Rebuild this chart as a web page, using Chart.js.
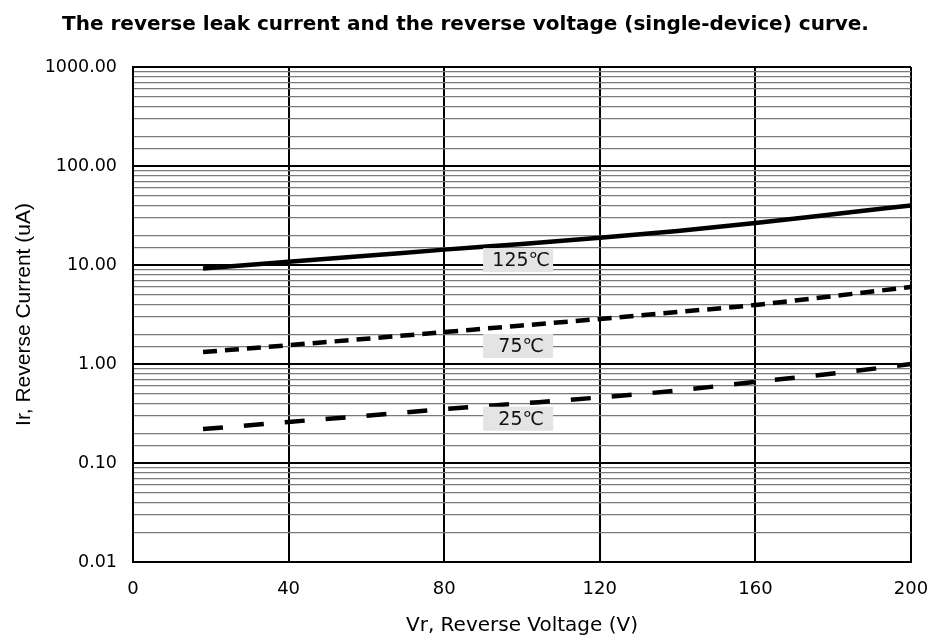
<!DOCTYPE html>
<html>
<head>
<meta charset="utf-8">
<title>Reverse leak current vs reverse voltage</title>
<script src="https://cdn.jsdelivr.net/npm/chart.js@4.4.1/dist/chart.umd.min.js"></script>
<style>
  html, body { margin: 0; padding: 0; background: #fff; }
  #wrap { width: 935px; height: 639px; }
</style>
</head>
<body>
<div id="wrap"><canvas id="curve-chart" width="935" height="639"></canvas></div>
<script>
// values
var voltages = [18, 40, 60, 80, 100, 120, 140, 160, 180, 200];
var current125 = [9.2, 10.8, 12.4, 14.3, 16.3, 18.8, 22, 26.5, 32.5, 40];
var current75 = [1.32, 1.55, 1.8, 2.1, 2.45, 2.85, 3.35, 3.95, 4.85, 6.0];
var current25 = [0.22, 0.26, 0.30, 0.35, 0.40, 0.46, 0.54, 0.66, 0.80, 1.0];

var xTickLabels = ['0', '40', '80', '120', '160', '200'];
var yTickLabels = ['0.01', '0.10', '1.00', '10.00', '100.00', '1000.00'];

// curve labels (text, voltage, current)
var curveNames = ['125\u2103', '75\u2103', '25\u2103'];
var nameAtV = [99, 99, 99];
var nameAtI = [11.2, 1.52, 0.28];

function toPoints(ys) {
  return voltages.map(function (v, i) { return { x: v, y: ys[i] }; });
}
function isDecade(v) {
  var l = Math.log10(v);
  return Math.abs(l - Math.round(l)) < 1e-6;
}

// gray boxes with the temperature names
var curveLabels = {
  id: 'curveLabels',
  afterDatasetsDraw: function (chart) {
    var ctx = chart.ctx;
    var xs = chart.scales.x, ys = chart.scales.y;
    ctx.save();
    ctx.font = '19px "DejaVu Sans"';
    ctx.textAlign = 'center';
    ctx.textBaseline = 'middle';
    for (var i = 0; i < curveNames.length; i++) {
      var px = xs.getPixelForValue(nameAtV[i]);
      var py = ys.getPixelForValue(nameAtI[i]);
      ctx.fillStyle = '#e4e4e4';
      ctx.fillRect(px - 35, py - 12, 70, 24);
      ctx.fillStyle = '#111';
      ctx.fillText(curveNames[i], px + 3, py + 1);
    }
    ctx.restore();
  }
};

var lineBase = { showLine: true, pointRadius: 0, borderColor: '#000', borderWidth: 4.5, fill: false,
                 cubicInterpolationMode: 'monotone', borderCapStyle: 'butt' };

new Chart(document.getElementById('curve-chart'), {
  type: 'scatter',
  data: {
    datasets: [
      Object.assign({ label: '125\u2103', data: toPoints(current125) }, lineBase),
      Object.assign({ label: '75\u2103', data: toPoints(current75), borderDash: [14, 8] }, lineBase),
      Object.assign({ label: '25\u2103', data: toPoints(current25), borderDash: [20, 21] }, lineBase)
    ]
  },
  plugins: [curveLabels],
  options: {
    responsive: false,
    animation: false,
    layout: { padding: { left: 10, right: 14, top: 0, bottom: 0 } },
    plugins: {
      legend: { display: false },
      tooltip: { enabled: false },
      title: {
        display: true,
        text: 'The reverse leak current and the reverse voltage (single-device) curve.',
        color: '#000',
        font: { family: '"DejaVu Sans"', size: 20, weight: 'bold' },
        padding: { top: 13, bottom: 30 }
      }
    },
    scales: {
      x: {
        type: 'linear',
        min: 0, max: 200,
        afterFit: function (s) { s.height = 77; s.paddingRight = 24; },
        afterBuildTicks: function (s) {
          s.ticks = xTickLabels.map(function (t) { return { value: Number(t) }; });
        },
        ticks: {
          color: '#000',
          font: { family: '"DejaVu Sans"', size: 18 },
          padding: 17,
          maxRotation: 0,
          callback: function (v, i) { return xTickLabels[i]; }
        },
        grid: { color: '#000', lineWidth: 2, drawTicks: false },
        border: { color: '#000', width: 2 },
        title: {
          display: true,
          text: 'Vr, Reverse Voltage (V)',
          color: '#000',
          font: { family: '"DejaVu Sans"', size: 20 },
          padding: { top: 0, bottom: 1 }
        }
      },
      y: {
        type: 'logarithmic',
        min: 0.01, max: 1000,
        afterFit: function (s) { s.width = 123; },
        ticks: {
          color: '#000',
          autoSkip: false,
          font: { family: '"DejaVu Sans"', size: 17.5 },
          padding: 16,
          callback: function (v) {
            if (!isDecade(v)) return '';
            return yTickLabels[Math.round(Math.log10(v)) + 2];
          }
        },
        grid: {
          drawTicks: false,
          color: function (c) { return c.tick && isDecade(c.tick.value) ? '#000' : '#7a7a7a'; },
          lineWidth: function (c) { return c.tick && isDecade(c.tick.value) ? 2 : 1.2; }
        },
        border: { color: '#000', width: 2 },
        title: {
          display: true,
          text: 'Ir, Reverse Current (uA)',
          color: '#000',
          font: { family: '"Liberation Sans", Arial', size: 21 },
          padding: { top: 2, bottom: 0 }
        }
      }
    }
  }
});
</script>
</body>
</html>
